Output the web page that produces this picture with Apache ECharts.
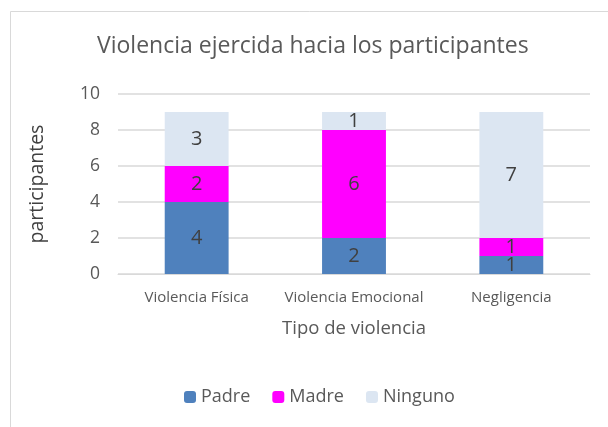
<!DOCTYPE html>
<html>
<head>
<meta charset="utf-8">
<title>Violencia ejercida hacia los participantes</title>
<script src="https://cdn.jsdelivr.net/npm/echarts@6/dist/echarts.min.js"></script>
<style>
  html, body { margin: 0; padding: 0; background: #fff; }
  #chart { width: 608px; height: 427px; }
</style>
</head>
<body>
<div id="chart"></div>
<script>
// datos
var categorias = ['Violencia Física', 'Violencia Emocional', 'Negligencia'];
var padre = [4, 2, 1];
var madre = [2, 6, 1];
var ninguno = [3, 1, 7];

var fuente = '"Open Sans", "Noto Sans", sans-serif';
var gris = '#595959';

function serie(nombre, datos, color) {
    return {
        name: nombre,
        type: 'bar',
        stack: 'total',
        barWidth: '40.6%',
        data: datos,
        itemStyle: { color: color },
        label: {
            show: true,
            position: 'inside',
            color: '#404040',
            fontFamily: fuente,
            fontSize: 20
        }
    };
}

var chart = echarts.init(document.getElementById('chart'));
chart.setOption({
    backgroundColor: '#fff',
    animation: false,
    graphic: [{
        type: 'rect',
        left: 8, top: 9,
        shape: { width: 640, height: 450 },
        style: { fill: 'none', stroke: '#d9d9d9', lineWidth: 1 }
    }],
    title: {
        text: 'Violencia ejercida hacia los participantes',
        left: 92,
        top: 30,
        textStyle: { fontFamily: fuente, fontWeight: 'normal', fontSize: 23, color: gris }
    },
    legend: {
        data: ['Padre', 'Madre', 'Ninguno'],
        bottom: 16,
        left: 179,
        itemWidth: 12,
        itemHeight: 12,
        itemGap: 22,
        textStyle: { fontFamily: fuente, fontSize: 18, color: gris }
    },
    grid: { left: 118, right: 18, top: 94, bottom: 153 },
    xAxis: {
        type: 'category',
        data: categorias,
        name: 'Tipo de violencia',
        nameLocation: 'middle',
        nameGap: 45,
        nameTextStyle: { fontFamily: fuente, fontSize: 18.5, color: gris },
        axisLine: { lineStyle: { color: '#d9d9d9' } },
        axisTick: { show: false },
        axisLabel: { interval: 0, fontFamily: fuente, fontSize: 15, color: gris, margin: 16 }
    },
    yAxis: {
        type: 'value',
        min: 0, max: 10, interval: 2,
        name: 'participantes',
        nameLocation: 'middle',
        nameGap: 71,
        nameTextStyle: { fontFamily: fuente, fontSize: 19.5, color: '#404040' },
        axisLine: { show: false },
        axisTick: { show: false },
        splitLine: { lineStyle: { color: '#d9d9d9', width: 1.5 } },
        axisLabel: { fontFamily: fuente, fontSize: 17.5, color: gris, margin: 18 }
    },
    series: [
        serie('Padre', padre, '#4f81bd'),
        serie('Madre', madre, '#ff00ff'),
        serie('Ninguno', ninguno, '#dce6f2')
    ]
});
</script>
</body>
</html>
